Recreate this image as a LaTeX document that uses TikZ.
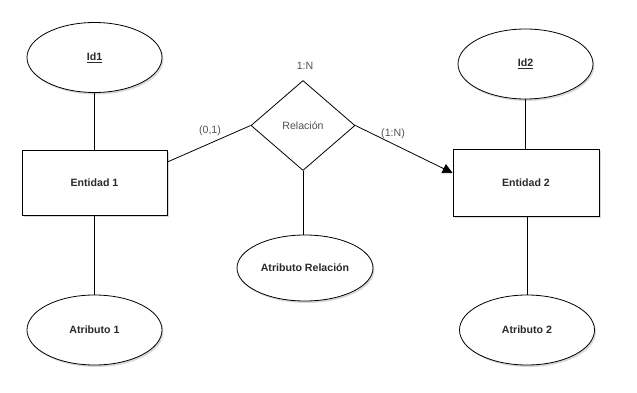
\documentclass[tikz,border=0pt]{standalone}
\usepackage{fontspec}
\setmainfont{Liberation Sans}
\usetikzlibrary{shapes.geometric,arrows.meta,shadows}
\definecolor{txt}{HTML}{2A2A2A}
\definecolor{lbl}{HTML}{505050}
\begin{document}
\begin{tikzpicture}[x=1pt,y=-1pt,
  shd/.style={drop shadow={opacity=0.3,shadow xshift=1.5pt,shadow yshift=-2pt}},
  attr/.style={ellipse,draw,line width=0.8pt,fill=white,shd,minimum width=135pt,minimum height=70pt,inner sep=0pt,
    font=\fontsize{10.6}{12}\selectfont\bfseries,text=txt},
  entity/.style={rectangle,draw,line width=0.8pt,fill=white,shd,minimum width=145pt,minimum height=65pt,inner sep=0pt,
    font=\fontsize{10.6}{12}\selectfont\bfseries,text=txt},
  relbox/.style={diamond,draw,line width=0.8pt,fill=white,minimum width=104pt,minimum height=90pt,inner sep=0pt,
    font=\fontsize{10.6}{12}\selectfont,text=lbl},
  card/.style={font=\fontsize{10.6}{12}\selectfont,text=lbl,inner sep=0pt},
  conn/.style={draw,line width=0.8pt}
]
\useasboundingbox (0,0) rectangle (637,393);
\node[attr] (id1) at (94.5,57.5) {\underline{Id1}};
\node[entity] (ent1) at (94.5,182.5) {Entidad 1};
\node[attr] (atr1) at (94.5,330) {Atributo 1};
\node[relbox] (rel) at (303,125.5) {Relación};
\node[attr,minimum width=136pt,minimum height=66pt] (atrrel) at (305,268) {Atributo Relación};
\node[attr] (id2) at (525.5,64) {\underline{Id2}};
\node[entity,minimum width=146pt,minimum height=67pt] (ent2) at (526,182.5) {Entidad 2};
\node[attr] (atr2) at (527,330) {Atributo 2};
\node[card] (lab1n) at (305,66) {1:N};
\node[card] (lab01) at (210,131) {(0,1)};
\node[card] (lab1N) at (393,134) {(1:N)};
\draw[conn] (id1) -- (ent1);
\draw[conn] (ent1) -- (atr1);
\draw[conn] (id2.south) -- (ent2.north -| id2.south);
\draw[conn] (ent2.south -| atr2.north) -- (atr2.north);
\draw[conn] (rel.south) -- (atrrel.north -| rel.south);
\draw[conn] ([yshift=20.5pt]ent1.east) -- (rel.west);
\draw[conn,-{Triangle[width=10pt,length=10pt]}] (rel.east) -- ([yshift=9.5pt]ent2.west);
\end{tikzpicture}
\end{document}
